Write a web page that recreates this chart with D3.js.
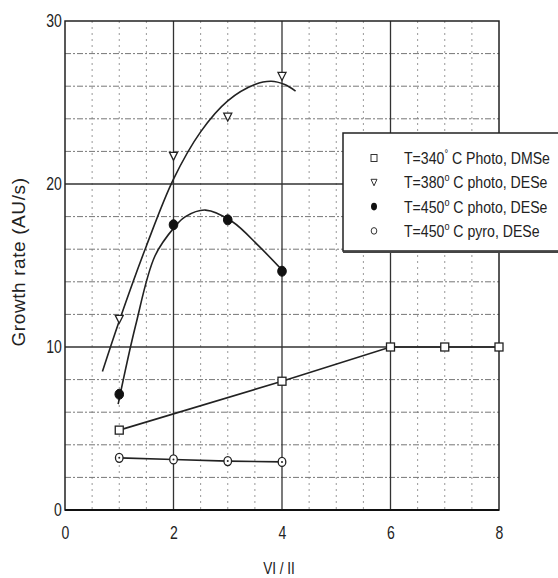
<!DOCTYPE html>
<html>
<head>
<meta charset="utf-8">
<script src="https://cdn.jsdelivr.net/npm/d3@7"></script>
<style>
  body { margin: 0; background: #fff; }
  svg text { font-family: "Liberation Sans", Arial, sans-serif; fill: #222; }
</style>
</head>
<body>
<svg id="chart" width="558" height="578"></svg>
<script>
// axis ticks
const xTicks = [0, 2, 4, 6, 8];
const yTicks = [0, 10, 20, 30];

// T=340 C photo, DMSe (squares)
const dmseX = [1, 4, 6, 7, 8];
const dmseY = [4.9, 7.9, 10, 10, 10];

// T=380 C photo, DESe (triangles) and its fitted curve
const photo380X = [1, 2, 3, 4];
const photo380Y = [11.7, 21.7, 24.1, 26.6];
const fit380X = [0.69, 1.0, 1.5, 2.0, 2.5, 3.0, 3.5, 3.8, 4.05, 4.25];
const fit380Y = [8.5, 11.6, 16.2, 20.3, 23.2, 25.1, 26.1, 26.3, 26.1, 25.7];

// T=450 C photo, DESe (filled circles) and its fitted curve
const photo450X = [1, 2, 3, 4];
const photo450Y = [7.1, 17.5, 17.8, 14.65];
const fit450X = [0.98, 1.3, 1.66, 2.03, 2.22, 2.59, 3.08, 3.57, 4.05];
const fit450Y = [6.5, 11.3, 15.6, 17.4, 18.0, 18.4, 17.7, 16.2, 14.55];

// T=450 C pyro, DESe (open circles)
const pyroX = [1, 2, 3, 4];
const pyroY = [3.2, 3.1, 3.0, 2.95];

const legendLabels = [
  ["T=340", "°", " C Photo, DMSe"],
  ["T=380", "o", " C photo, DESe"],
  ["T=450", "o", " C photo, DESe"],
  ["T=450", "o", " C pyro, DESe"]
];

const margin = { left: 65, right: 59, top: 21, bottom: 68 };
const width = 558 - margin.left - margin.right;
const height = 578 - margin.top - margin.bottom;

const svg = d3.select("#chart");
const g = svg.append("g").attr("transform", `translate(${margin.left},${margin.top})`);

const x = d3.scaleLinear().domain([0, 8]).range([0, width]);
const y = d3.scaleLinear().domain([0, 30]).range([height, 0]);

// minor grid
g.append("g").selectAll("line")
  .data(d3.range(0.5, 8, 0.5).filter(v => v % 2 !== 0))
  .join("line")
  .attr("x1", d => x(d)).attr("x2", d => x(d))
  .attr("y1", 0).attr("y2", height)
  .attr("stroke", "#999").attr("stroke-width", 1)
  .attr("stroke-dasharray", "2,4");

g.append("g").selectAll("line")
  .data(d3.range(2, 30, 2).filter(v => v % 10 !== 0))
  .join("line")
  .attr("x1", 0).attr("x2", width)
  .attr("y1", d => y(d)).attr("y2", d => y(d))
  .attr("stroke", "#777").attr("stroke-width", 1)
  .attr("stroke-dasharray", "6,2,2,2");

// major grid
g.append("g").selectAll("line")
  .data([2, 4, 6])
  .join("line")
  .attr("x1", d => x(d)).attr("x2", d => x(d))
  .attr("y1", 0).attr("y2", height)
  .attr("stroke", "#333").attr("stroke-width", 1.3);

g.append("g").selectAll("line")
  .data([10, 20])
  .join("line")
  .attr("x1", 0).attr("x2", width)
  .attr("y1", d => y(d)).attr("y2", d => y(d))
  .attr("stroke", "#333").attr("stroke-width", 1.5);

// frame
g.append("rect")
  .attr("x", 0).attr("y", 0).attr("width", width).attr("height", height)
  .attr("fill", "none").attr("stroke", "#222").attr("stroke-width", 1.5);
g.append("line")
  .attr("x1", 0).attr("x2", width).attr("y1", height).attr("y2", height)
  .attr("stroke", "#111").attr("stroke-width", 2.2);

// axes (labels only, frame drawn above)
const xAxis = g.append("g")
  .attr("transform", `translate(0,${height})`)
  .call(d3.axisBottom(x).tickValues(xTicks).tickSize(0).tickPadding(16));
const yAxis = g.append("g")
  .call(d3.axisLeft(y).tickValues(yTicks).tickSize(0).tickPadding(4));
[xAxis, yAxis].forEach(a => {
  a.select(".domain").remove();
  a.selectAll("text").attr("font-size", 18).attr("fill", "#222")
    .attr("transform", "scale(0.78,1)")
    .style("font-family", '"Liberation Sans", Arial, sans-serif');
});

svg.append("text")
  .attr("transform", "translate(279,574) scale(0.8,1)")
  .attr("text-anchor", "middle").attr("font-size", 17)
  .text("VI / II");

svg.append("text")
  .attr("transform", "translate(25,262) rotate(-90)")
  .attr("text-anchor", "middle").attr("font-size", 19)
  .attr("letter-spacing", 0.6)
  .text("Growth rate (AU/s)");

// lines
const line = d3.line().x(d => x(d[0])).y(d => y(d[1]));
const smooth = d3.line().curve(d3.curveCatmullRom.alpha(0.5)).x(d => x(d[0])).y(d => y(d[1]));
const zip = (a, b) => a.map((v, i) => [v, b[i]]);

const lineStyle = sel => sel.attr("fill", "none").attr("stroke", "#222").attr("stroke-width", 1.6);

g.append("path").attr("d", line(zip(dmseX, dmseY))).call(lineStyle);
g.append("path").attr("d", line(zip(pyroX, pyroY))).call(lineStyle);
g.append("path").attr("d", smooth(zip(fit380X, fit380Y))).call(lineStyle);
g.append("path").attr("d", smooth(zip(fit450X, fit450Y))).call(lineStyle);

// markers
const square = (sel) => sel.append("rect")
  .attr("x", -4).attr("y", -4).attr("width", 8).attr("height", 8)
  .attr("fill", "#fff").attr("stroke", "#222").attr("stroke-width", 1.3);
const triangle = (sel) => sel.append("path")
  .attr("d", "M-4,-4L4,-4L0,4Z")
  .attr("fill", "#fff").attr("stroke", "#222").attr("stroke-width", 1.3);
const dot = (sel) => sel.append("ellipse")
  .attr("rx", 4.3).attr("ry", 5)
  .attr("fill", "#111").attr("stroke", "#111");
const ring = (sel) => {
  sel.append("ellipse").attr("rx", 3.8).attr("ry", 4.5)
    .attr("fill", "#fff").attr("stroke", "#222").attr("stroke-width", 1.3);
  sel.append("circle").attr("r", 1).attr("fill", "#222");
};

const drawMarkers = (xs, ys, shape) => {
  g.append("g").selectAll("g")
    .data(zip(xs, ys))
    .join("g")
    .attr("transform", d => `translate(${x(d[0])},${y(d[1])})`)
    .each(function() { shape(d3.select(this)); });
};

drawMarkers(dmseX, dmseY, square);
drawMarkers(photo380X, photo380Y, triangle);
drawMarkers(photo450X, photo450Y, dot);
drawMarkers(pyroX, pyroY, ring);

// legend
const legend = svg.append("g").attr("transform", "translate(343,133)");
legend.append("rect")
  .attr("x", 0).attr("y", 0).attr("width", 240).attr("height", 118)
  .attr("fill", "#fff").attr("stroke", "#222").attr("stroke-width", 1.5);
legend.append("line")
  .attr("x1", 0).attr("x2", 240).attr("y1", 119).attr("y2", 119)
  .attr("stroke", "#444").attr("stroke-width", 2);

const shapes = [
  s => s.append("rect").attr("x", -3).attr("y", -3.5).attr("width", 6).attr("height", 7)
    .attr("fill", "#fff").attr("stroke", "#333").attr("stroke-width", 1),
  s => s.append("path").attr("d", "M-3,-3L3,-3L0,3.5Z")
    .attr("fill", "#fff").attr("stroke", "#333").attr("stroke-width", 1),
  s => s.append("ellipse").attr("rx", 3).attr("ry", 3.8).attr("fill", "#111"),
  s => s.append("ellipse").attr("rx", 2.8).attr("ry", 3.3)
    .attr("fill", "#fff").attr("stroke", "#333").attr("stroke-width", 1)
];

const rows = legend.selectAll("g.row")
  .data(legendLabels)
  .join("g")
  .attr("class", "row")
  .attr("transform", (d, i) => `translate(0,${25 + i * 24.3})`);

rows.each(function(d, i) {
  const r = d3.select(this);
  shapes[i](r.append("g").attr("transform", "translate(31,0)"));
  const t = r.append("text")
    .attr("transform", "translate(61,6) scale(0.83,1)")
    .attr("font-size", 17);
  t.append("tspan").text(d[0]);
  t.append("tspan").attr("font-size", 11).attr("dy", -7).text(d[1]);
  t.append("tspan").attr("dy", 7).text(d[2]);
});
</script>
</body>
</html>
